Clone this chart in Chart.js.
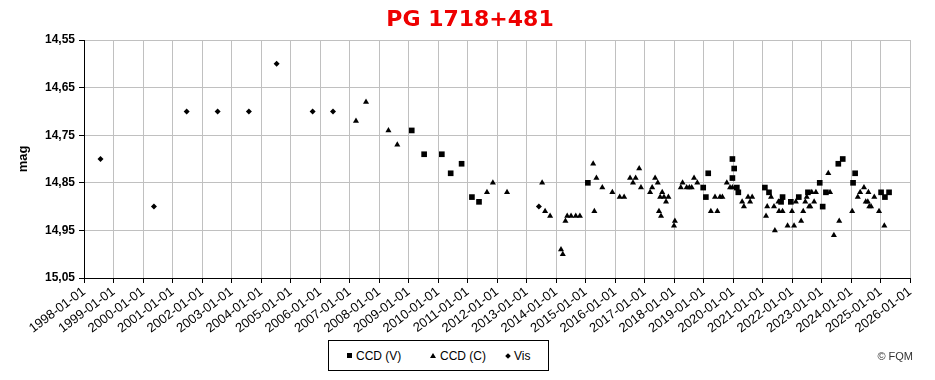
<!DOCTYPE html>
<html>
<head>
<meta charset="utf-8">
<script src="https://cdn.jsdelivr.net/npm/chart.js@4.4.1/dist/chart.umd.min.js"></script>
<style>
html,body{margin:0;padding:0;background:#fff;}
#wrap{position:relative;width:935px;height:380px;overflow:hidden;}
#c{position:absolute;left:0;top:0;}
#legend{position:absolute;left:328px;top:340px;width:219px;height:29px;border:1px solid #000;background:#fff;
  font:12px "Liberation Sans",Arial,sans-serif;color:#000;}
.item{position:absolute;top:8px;white-space:nowrap;}
.mk{display:inline-block;vertical-align:middle;margin-right:4px;position:relative;top:-1px;}
.sq{width:5px;height:5px;background:#000;}
.tr{width:0;height:0;border-left:3px solid transparent;border-right:3px solid transparent;border-bottom:5px solid #000;}
.di{width:4px;height:4px;background:#000;transform:rotate(45deg);}
#copy{position:absolute;right:22px;top:350px;font:11px "Liberation Sans",Arial,sans-serif;color:#333;}
</style>
</head>
<body>
<div id="wrap">
<canvas id="c" width="935" height="380"></canvas>
<div id="legend">
  <span class="item" style="left:18px"><span class="mk sq"></span>CCD (V)</span>
  <span class="item" style="left:101px"><span class="mk tr"></span>CCD (C)</span>
  <span class="item" style="left:177px"><span class="mk di"></span>Vis</span>
</div>
<div id="copy">© FQM</div>
</div>
<script>
// ---- data ----
const titleText = 'PG 1718+481';
const seriesNames = ['CCD (V)', 'CCD (C)', 'Vis'];

const vDates = [2009.11, 2009.53, 2010.13, 2010.43, 2010.80, 2011.15, 2011.39, 2015.08, 2018.99, 2019.08,
  2019.16, 2019.98, 2020.04, 2019.98, 2020.13, 2020.18, 2021.08, 2021.22, 2021.63, 2021.68,
  2021.96, 2022.23, 2022.54, 2022.94, 2023.04, 2023.15, 2023.57, 2023.72, 2024.07, 2024.14,
  2025.02, 2025.15, 2025.29];
const vMags = [14.74, 14.79, 14.79, 14.83, 14.81, 14.88, 14.89, 14.85, 14.86, 14.88,
  14.83, 14.80, 14.82, 14.84, 14.86, 14.87, 14.86, 14.87, 14.89, 14.88,
  14.89, 14.88, 14.87, 14.85, 14.90, 14.87, 14.81, 14.80, 14.85, 14.83,
  14.87, 14.88, 14.87];

const cDates = [2007.22, 2007.56, 2008.32, 2008.62, 2011.66, 2011.86, 2012.34, 2013.53, 2013.63, 2013.80,
  2014.17, 2014.23, 2014.32, 2014.38, 2014.51, 2014.67, 2014.81, 2015.26, 2015.30, 2015.37,
  2015.57, 2015.91, 2016.16, 2016.31, 2016.51, 2016.61, 2016.70, 2016.82, 2016.88, 2017.19,
  2017.26, 2017.36, 2017.45, 2017.49, 2017.53, 2017.56, 2017.60, 2017.66, 2017.73, 2017.81,
  2018.00, 2018.03, 2018.23, 2018.29, 2018.43, 2018.52, 2018.60, 2018.68, 2018.79, 2019.25,
  2019.39, 2019.47, 2019.56, 2019.64, 2019.79, 2019.90, 2019.98, 2020.31, 2020.37, 2020.51,
  2020.58, 2020.65, 2021.12, 2021.16, 2021.29, 2021.39, 2021.42, 2021.54, 2021.56, 2021.68,
  2021.85, 2022.00, 2022.07, 2022.13, 2022.31, 2022.38, 2022.45, 2022.50, 2022.58, 2022.62,
  2022.67, 2022.75, 2022.81, 2023.23, 2023.29, 2023.42, 2023.60, 2024.04, 2024.23, 2024.31,
  2024.44, 2024.50, 2024.57, 2024.59, 2024.62, 2024.68, 2024.79, 2024.95, 2025.13];
const cMags = [14.72, 14.68, 14.74, 14.77, 14.87, 14.85, 14.87, 14.85, 14.91, 14.92,
  14.99, 15.00, 14.93, 14.92, 14.92, 14.92, 14.92, 14.81, 14.91, 14.84,
  14.86, 14.87, 14.88, 14.88, 14.84, 14.85, 14.84, 14.82, 14.86, 14.87,
  14.86, 14.84, 14.85, 14.91, 14.88, 14.92, 14.87, 14.88, 14.89, 14.88,
  14.94, 14.93, 14.86, 14.85, 14.86, 14.86, 14.86, 14.84, 14.85, 14.91,
  14.88, 14.91, 14.88, 14.88, 14.85, 14.86, 14.86, 14.89, 14.90, 14.88,
  14.89, 14.88, 14.92, 14.90, 14.88, 14.90, 14.95, 14.89, 14.91, 14.91,
  14.94, 14.91, 14.94, 14.89, 14.93, 14.91, 14.89, 14.88, 14.90, 14.90,
  14.87, 14.89, 14.87, 14.83, 14.87, 14.96, 14.93, 14.91, 14.88, 14.87,
  14.86, 14.89, 14.89, 14.87, 14.90, 14.90, 14.88, 14.91, 14.94];

const visDates = [1998.56, 2000.37, 2001.48, 2002.53, 2003.59, 2004.53, 2005.75, 2006.44, 2013.42];
const visMags = [14.80, 14.90, 14.70, 14.70, 14.70, 14.60, 14.70, 14.70, 14.90];

const xTickValues = [1998, 1999, 2000, 2001, 2002, 2003, 2004, 2005, 2006, 2007, 2008, 2009, 2010, 2011,
  2012, 2013, 2014, 2015, 2016, 2017, 2018, 2019, 2020, 2021, 2022, 2023, 2024, 2025, 2026];
const xTickLabels = ['1998-01-01', '1999-01-01', '2000-01-01', '2001-01-01', '2002-01-01', '2003-01-01',
  '2004-01-01', '2005-01-01', '2006-01-01', '2007-01-01', '2008-01-01', '2009-01-01', '2010-01-01',
  '2011-01-01', '2012-01-01', '2013-01-01', '2014-01-01', '2015-01-01', '2016-01-01', '2017-01-01',
  '2018-01-01', '2019-01-01', '2020-01-01', '2021-01-01', '2022-01-01', '2023-01-01', '2024-01-01',
  '2025-01-01', '2026-01-01'];
const yTickValues = [14.55, 14.65, 14.75, 14.85, 14.95, 15.05];
const yTickLabels = ['14,55', '14,65', '14,75', '14,85', '14,95', '15,05'];

// ---- chart ----
const pts = (xs, ys) => xs.map((x, i) => ({x: x, y: ys[i]}));
const FONT = '"Liberation Sans", Arial, sans-serif';

new Chart(document.getElementById('c'), {
  type: 'scatter',
  data: {
    datasets: [
      {label: seriesNames[0], data: pts(vDates, vMags), pointStyle: 'rect', pointRadius: 4,
       backgroundColor: '#000', borderColor: '#000', borderWidth: 0},
      {label: seriesNames[1], data: pts(cDates, cMags), pointStyle: 'triangle', pointRadius: 3.5,
       backgroundColor: '#000', borderColor: '#000', borderWidth: 0},
      {label: seriesNames[2], data: pts(visDates, visMags), pointStyle: 'rectRot', pointRadius: 3,
       backgroundColor: '#000', borderColor: '#000', borderWidth: 0}
    ]
  },
  options: {
    responsive: false,
    animation: false,
    events: [],
    layout: {padding: {left: 30, right: 25, top: 0, bottom: 42}},
    plugins: {
      legend: {display: false},
      tooltip: {enabled: false},
      title: {
        display: true, text: titleText, color: '#ee0000',
        font: {family: '"DejaVu Sans", Verdana, sans-serif', size: 22, weight: 'bold', lineHeight: 1.2},
        padding: {top: 7, bottom: 6.6}
      }
    },
    scales: {
      x: {
        type: 'linear', min: 1998, max: 2026,
        afterBuildTicks: s => { s.ticks = xTickValues.map(v => ({value: v})); },
        afterFit: s => { s.height = 60; },
        ticks: {
          autoSkip: false, maxRotation: 37, minRotation: 37, padding: 1,
          color: '#000', font: {family: FONT, size: 13},
          callback: (v, i) => xTickLabels[i]
        },
        grid: {color: '#c0c0c0', tickColor: '#000', tickLength: 5, lineWidth: 1},
        border: {color: '#000', width: 1}
      },
      y: {
        reverse: true, min: 14.55, max: 15.05,
        afterBuildTicks: s => { s.ticks = yTickValues.map(v => ({value: v})); },
        afterFit: s => { s.width = 54; },
        ticks: {
          padding: 4, color: '#000', font: {family: FONT, size: 12, weight: 'bold'},
          callback: (v, i) => yTickLabels[i]
        },
        title: {display: true, text: 'mag', color: '#000',
          font: {family: FONT, size: 13, weight: 'bold'}, padding: {top: -14, bottom: 0}},
        grid: {color: '#c0c0c0', tickColor: '#000', tickLength: 5, lineWidth: 1},
        border: {color: '#000', width: 1}
      }
    }
  }
});
</script>
</body>
</html>
